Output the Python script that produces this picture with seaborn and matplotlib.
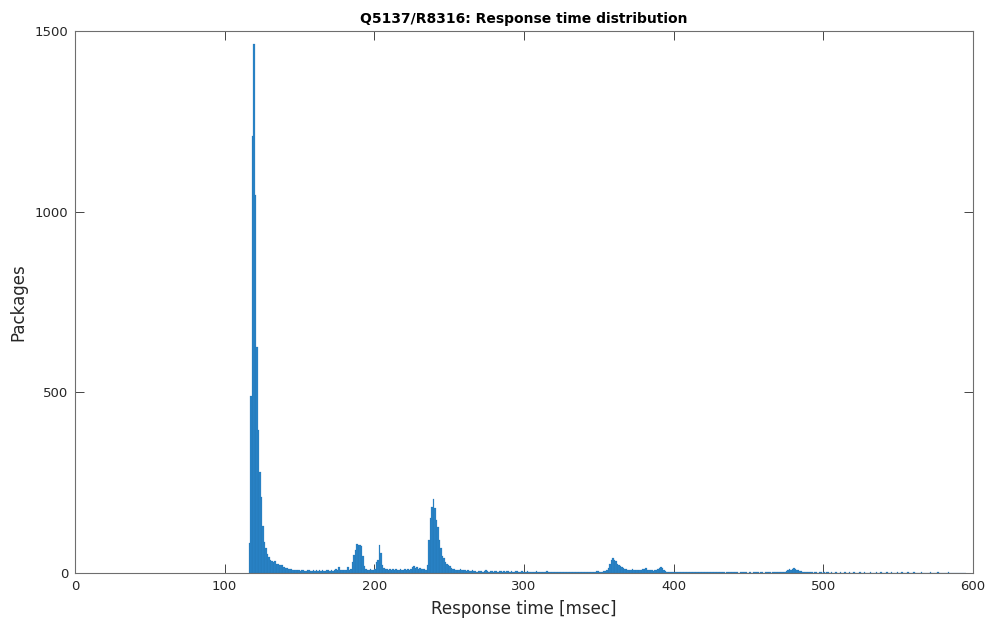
import matplotlib
matplotlib.use("Agg")
import matplotlib.pyplot as plt
import seaborn as sns
import numpy as np
import pandas as pd

# histogram counts, 1 msec bins starting at 116 msec
first_bin = 116
counts_116_129 = [83, 490, 1210, 1465, 1045, 625, 395, 280, 210, 130, 85, 68, 53, 43]
counts_130_179 = [36, 34, 30, 32, 24, 25, 22, 21, 22, 17,
                  15, 15, 11, 12, 10, 9, 8, 9, 7, 8,
                  6, 7, 9, 6, 5, 7, 8, 6, 5, 7,
                  6, 8, 5, 7, 6, 9, 5, 6, 8, 7,
                  5, 7, 6, 8, 10, 9, 17, 8, 7, 9]
counts_180_229 = [8, 7, 17, 9, 12, 30, 50, 64, 80, 77,
                  78, 74, 48, 20, 12, 9, 8, 10, 7, 9,
                  12, 30, 36, 77, 55, 21, 14, 10, 12, 9,
                  11, 9, 10, 8, 12, 9, 7, 10, 8, 9,
                  10, 8, 12, 9, 11, 16, 18, 14, 17, 12]
counts_230_299 = [15, 11, 10, 12, 9, 22, 91, 152, 183, 204,
                  180, 147, 128, 91, 69, 47, 41, 31, 25, 22,
                  19, 15, 12, 10, 9, 8, 9, 10, 7, 8,
                  7, 6, 8, 5, 6, 7, 5, 6, 4, 6,
                  5, 6, 4, 5, 7, 5, 4, 6, 5, 4,
                  6, 5, 4, 5, 6, 3, 5, 4, 6, 5,
                  4, 5, 3, 4, 5, 6, 4, 3, 5, 4]
counts_300_399 = [3, 4, 5, 3, 4, 2, 4, 3, 5, 3,
                  4, 3, 2, 4, 3, 5, 3, 2, 4, 3,
                  3, 2, 4, 3, 2, 3, 4, 2, 3, 2,
                  3, 4, 2, 3, 2, 4, 3, 2, 3, 2,
                  3, 2, 4, 2, 3, 2, 3, 4, 6, 5,
                  3, 4, 3, 5, 6, 9, 15, 25, 36, 41,
                  35, 33, 25, 22, 20, 17, 14, 12, 10, 9,
                  8, 9, 10, 8, 9, 7, 9, 8, 7, 10,
                  12, 14, 9, 8, 7, 8, 6, 7, 9, 10,
                  13, 16, 15, 9, 5, 4, 3, 4, 3, 3]
counts_400_499 = [4, 3, 2, 3, 4, 2, 3, 2, 3, 2,
                  3, 2, 2, 3, 2, 3, 2, 2, 3, 2,
                  2, 3, 2, 2, 3, 2, 2, 3, 2, 2,
                  2, 2, 3, 2, 1, 2, 2, 3, 2, 2,
                  3, 2, 2, 1, 2, 2, 3, 2, 2, 1,
                  2, 2, 1, 2, 3, 2, 2, 1, 2, 2,
                  1, 2, 2, 3, 2, 1, 2, 2, 3, 2,
                  2, 2, 3, 2, 3, 5, 8, 10, 9, 11,
                  13, 12, 9, 8, 6, 5, 3, 2, 3, 2,
                  2, 3, 2, 1, 2, 2, 1, 2, 2, 1]
counts_500_594 = [2, 1, 2, 2, 1, 2, 1, 1, 2, 1,
                  1, 2, 1, 1, 2, 1, 0, 2, 1, 1,
                  2, 1, 1, 0, 2, 1, 1, 2, 1, 0,
                  1, 2, 1, 1, 0, 2, 1, 1, 2, 1,
                  1, 0, 2, 1, 1, 2, 1, 0, 1, 2,
                  1, 1, 2, 0, 1, 1, 2, 1, 0, 1,
                  2, 1, 1, 0, 1, 2, 1, 1, 0, 1,
                  1, 2, 0, 1, 1, 1, 2, 0, 1, 1,
                  1, 0, 1, 2, 1, 1, 0, 1, 1, 0,
                  1, 1, 0, 1, 1]

x_ticks = [0, 100, 200, 300, 400, 500, 600]
y_ticks = [0, 500, 1000, 1500]

counts = (counts_116_129 + counts_130_179 + counts_180_229 + counts_230_299
          + counts_300_399 + counts_400_499 + counts_500_594)
bin_start = np.arange(first_bin, first_bin + len(counts))
df = pd.DataFrame({'msec': bin_start + 0.5, 'packages': counts})

sns.set_style('white')
plt.rcParams['font.family'] = ['DejaVu Sans']
dark = '#262626'

fig = plt.figure(figsize=(9.85, 6.21), dpi=100)
ax = fig.add_axes([75 / 985, 1 - 573 / 621, 898 / 985, 542 / 621])

sns.histplot(data=df, x='msec', weights='packages', binwidth=1,
             binrange=(first_bin, first_bin + len(counts)),
             color='#2a84c7', alpha=1, edgecolor='#1f6fae', linewidth=0.15,
             ax=ax)

ax.set_xlim(0, 600)
ax.set_ylim(0, 1500)
ax.set_xticks(x_ticks)
ax.set_yticks(y_ticks)
ax.tick_params(direction='in', length=6.5, width=0.6, color=dark,
               labelcolor=dark, labelsize=9.5, pad=5, top=True, right=True,
               bottom=True, left=True)
for s in ax.spines.values():
    s.set_color('#6e6e6e')
    s.set_linewidth(0.8)

ax.set_xlabel('Response time [msec]', fontsize=12, color=dark, labelpad=5)
ax.set_ylabel('Packages', fontsize=12, color=dark, labelpad=5)
ax.set_title('Q5137/R8316: Response time distribution', fontsize=10,
             fontweight='bold', color='black', pad=6)

fig.savefig('out.png', dpi=100)
